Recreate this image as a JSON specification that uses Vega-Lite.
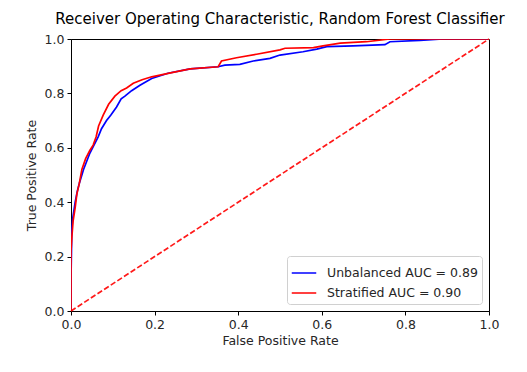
{
  "$schema": "https://vega.github.io/schema/vega-lite/v6.json",
  "width": 418,
  "height": 272,
  "autosize": {"type": "none"},
  "padding": {"left": 71, "top": 39, "right": 38, "bottom": 61},
  "background": "white",
  "title": {
    "text": "Receiver Operating Characteristic, Random Forest Classifier",
    "font": "DejaVu Sans",
    "fontSize": 15,
    "fontWeight": "normal",
    "color": "#000000",
    "offset": 6
  },
  "config": {
    "font": "DejaVu Sans",
    "view": {"stroke": "#000000", "strokeWidth": 1}
  },
  "layer": [
    {
      "data": {
        "values": [
          {"model": "Unbalanced AUC = 0.89", "i": 0, "fpr": 0, "tpr": 0},
          {"model": "Unbalanced AUC = 0.89", "i": 1, "fpr": 0, "tpr": 0.12},
          {"model": "Unbalanced AUC = 0.89", "i": 2, "fpr": 0.002, "tpr": 0.3},
          {"model": "Unbalanced AUC = 0.89", "i": 3, "fpr": 0.004, "tpr": 0.34},
          {"model": "Unbalanced AUC = 0.89", "i": 4, "fpr": 0.01, "tpr": 0.4},
          {"model": "Unbalanced AUC = 0.89", "i": 5, "fpr": 0.015, "tpr": 0.44},
          {"model": "Unbalanced AUC = 0.89", "i": 6, "fpr": 0.02, "tpr": 0.47},
          {"model": "Unbalanced AUC = 0.89", "i": 7, "fpr": 0.03, "tpr": 0.52},
          {"model": "Unbalanced AUC = 0.89", "i": 8, "fpr": 0.045, "tpr": 0.58},
          {"model": "Unbalanced AUC = 0.89", "i": 9, "fpr": 0.055, "tpr": 0.61},
          {"model": "Unbalanced AUC = 0.89", "i": 10, "fpr": 0.065, "tpr": 0.64},
          {"model": "Unbalanced AUC = 0.89", "i": 11, "fpr": 0.073, "tpr": 0.67},
          {"model": "Unbalanced AUC = 0.89", "i": 12, "fpr": 0.085, "tpr": 0.7},
          {"model": "Unbalanced AUC = 0.89", "i": 13, "fpr": 0.095, "tpr": 0.72},
          {"model": "Unbalanced AUC = 0.89", "i": 14, "fpr": 0.109, "tpr": 0.75},
          {"model": "Unbalanced AUC = 0.89", "i": 15, "fpr": 0.12, "tpr": 0.78},
          {"model": "Unbalanced AUC = 0.89", "i": 16, "fpr": 0.129, "tpr": 0.79},
          {"model": "Unbalanced AUC = 0.89", "i": 17, "fpr": 0.145, "tpr": 0.81},
          {"model": "Unbalanced AUC = 0.89", "i": 18, "fpr": 0.165, "tpr": 0.83},
          {"model": "Unbalanced AUC = 0.89", "i": 19, "fpr": 0.193, "tpr": 0.855},
          {"model": "Unbalanced AUC = 0.89", "i": 20, "fpr": 0.232, "tpr": 0.874},
          {"model": "Unbalanced AUC = 0.89", "i": 21, "fpr": 0.285, "tpr": 0.89},
          {"model": "Unbalanced AUC = 0.89", "i": 22, "fpr": 0.352, "tpr": 0.898},
          {"model": "Unbalanced AUC = 0.89", "i": 23, "fpr": 0.368, "tpr": 0.904},
          {"model": "Unbalanced AUC = 0.89", "i": 24, "fpr": 0.404, "tpr": 0.907},
          {"model": "Unbalanced AUC = 0.89", "i": 25, "fpr": 0.436, "tpr": 0.919},
          {"model": "Unbalanced AUC = 0.89", "i": 26, "fpr": 0.476, "tpr": 0.929},
          {"model": "Unbalanced AUC = 0.89", "i": 27, "fpr": 0.5, "tpr": 0.941},
          {"model": "Unbalanced AUC = 0.89", "i": 28, "fpr": 0.555, "tpr": 0.953},
          {"model": "Unbalanced AUC = 0.89", "i": 29, "fpr": 0.588, "tpr": 0.963},
          {"model": "Unbalanced AUC = 0.89", "i": 30, "fpr": 0.612, "tpr": 0.972},
          {"model": "Unbalanced AUC = 0.89", "i": 31, "fpr": 0.675, "tpr": 0.975},
          {"model": "Unbalanced AUC = 0.89", "i": 32, "fpr": 0.751, "tpr": 0.979},
          {"model": "Unbalanced AUC = 0.89", "i": 33, "fpr": 0.763, "tpr": 0.99},
          {"model": "Unbalanced AUC = 0.89", "i": 34, "fpr": 0.835, "tpr": 0.995},
          {"model": "Unbalanced AUC = 0.89", "i": 35, "fpr": 0.89, "tpr": 1.0},
          {"model": "Unbalanced AUC = 0.89", "i": 36, "fpr": 1.0, "tpr": 1.0},
          {"model": "Stratified AUC = 0.90", "i": 0, "fpr": 0, "tpr": 0},
          {"model": "Stratified AUC = 0.90", "i": 1, "fpr": 0, "tpr": 0.22},
          {"model": "Stratified AUC = 0.90", "i": 2, "fpr": 0.002, "tpr": 0.27},
          {"model": "Stratified AUC = 0.90", "i": 3, "fpr": 0.005, "tpr": 0.33},
          {"model": "Stratified AUC = 0.90", "i": 4, "fpr": 0.01, "tpr": 0.38},
          {"model": "Stratified AUC = 0.90", "i": 5, "fpr": 0.014, "tpr": 0.43},
          {"model": "Stratified AUC = 0.90", "i": 6, "fpr": 0.02, "tpr": 0.47},
          {"model": "Stratified AUC = 0.90", "i": 7, "fpr": 0.026, "tpr": 0.52},
          {"model": "Stratified AUC = 0.90", "i": 8, "fpr": 0.035, "tpr": 0.56},
          {"model": "Stratified AUC = 0.90", "i": 9, "fpr": 0.045, "tpr": 0.59},
          {"model": "Stratified AUC = 0.90", "i": 10, "fpr": 0.053, "tpr": 0.61},
          {"model": "Stratified AUC = 0.90", "i": 11, "fpr": 0.06, "tpr": 0.64},
          {"model": "Stratified AUC = 0.90", "i": 12, "fpr": 0.066, "tpr": 0.68},
          {"model": "Stratified AUC = 0.90", "i": 13, "fpr": 0.077, "tpr": 0.72},
          {"model": "Stratified AUC = 0.90", "i": 14, "fpr": 0.09, "tpr": 0.76},
          {"model": "Stratified AUC = 0.90", "i": 15, "fpr": 0.105, "tpr": 0.79},
          {"model": "Stratified AUC = 0.90", "i": 16, "fpr": 0.12, "tpr": 0.81},
          {"model": "Stratified AUC = 0.90", "i": 17, "fpr": 0.133, "tpr": 0.82},
          {"model": "Stratified AUC = 0.90", "i": 18, "fpr": 0.149, "tpr": 0.837},
          {"model": "Stratified AUC = 0.90", "i": 19, "fpr": 0.17, "tpr": 0.85},
          {"model": "Stratified AUC = 0.90", "i": 20, "fpr": 0.193, "tpr": 0.861},
          {"model": "Stratified AUC = 0.90", "i": 21, "fpr": 0.244, "tpr": 0.877},
          {"model": "Stratified AUC = 0.90", "i": 22, "fpr": 0.285, "tpr": 0.89},
          {"model": "Stratified AUC = 0.90", "i": 23, "fpr": 0.352, "tpr": 0.898},
          {"model": "Stratified AUC = 0.90", "i": 24, "fpr": 0.36, "tpr": 0.919},
          {"model": "Stratified AUC = 0.90", "i": 25, "fpr": 0.396, "tpr": 0.931},
          {"model": "Stratified AUC = 0.90", "i": 26, "fpr": 0.444, "tpr": 0.944},
          {"model": "Stratified AUC = 0.90", "i": 27, "fpr": 0.5, "tpr": 0.96},
          {"model": "Stratified AUC = 0.90", "i": 28, "fpr": 0.512, "tpr": 0.966},
          {"model": "Stratified AUC = 0.90", "i": 29, "fpr": 0.58, "tpr": 0.968},
          {"model": "Stratified AUC = 0.90", "i": 30, "fpr": 0.603, "tpr": 0.975},
          {"model": "Stratified AUC = 0.90", "i": 31, "fpr": 0.644, "tpr": 0.985},
          {"model": "Stratified AUC = 0.90", "i": 32, "fpr": 0.707, "tpr": 0.99},
          {"model": "Stratified AUC = 0.90", "i": 33, "fpr": 0.763, "tpr": 1.0},
          {"model": "Stratified AUC = 0.90", "i": 34, "fpr": 1.0, "tpr": 1.0}
        ]
      },
      "mark": {"type": "line", "strokeWidth": 1.7, "clip": true},
      "encoding": {
        "x": {
          "field": "fpr",
          "type": "quantitative",
          "scale": {"domain": [0, 1], "nice": false, "zero": false},
          "axis": {
            "title": "False Positive Rate",
            "values": [0, 0.2, 0.4, 0.6, 0.8, 1.0],
            "format": ".1f",
            "grid": false,
            "labelFlush": false,
            "domainColor": "#000000",
            "tickColor": "#000000",
            "tickSize": 4,
            "labelFontSize": 12.5,
            "labelColor": "#262626",
            "labelPadding": 3,
            "titleFontSize": 12.5,
            "titleFontWeight": "normal",
            "titleColor": "#262626",
            "titlePadding": 4
          }
        },
        "y": {
          "field": "tpr",
          "type": "quantitative",
          "scale": {"domain": [0, 1], "nice": false, "zero": false},
          "axis": {
            "title": "True Positive Rate",
            "values": [0, 0.2, 0.4, 0.6, 0.8, 1.0],
            "format": ".1f",
            "grid": false,
            "labelFlush": false,
            "domainColor": "#000000",
            "tickColor": "#000000",
            "tickSize": 4,
            "labelFontSize": 12.5,
            "labelColor": "#262626",
            "labelPadding": 3,
            "titleFontSize": 12.5,
            "titleFontWeight": "normal",
            "titleColor": "#262626",
            "titlePadding": 6
          }
        },
        "color": {
          "field": "model",
          "type": "nominal",
          "scale": {
            "domain": ["Unbalanced AUC = 0.89", "Stratified AUC = 0.90"],
            "range": ["#0000ff", "#ff0000"]
          },
          "legend": {
            "title": null,
            "orient": "bottom-right",
            "offset": 7,
            "symbolType": "stroke",
            "symbolSize": 600,
            "symbolStrokeWidth": 1.5,
            "labelFontSize": 12.5,
            "labelColor": "#262626",
            "labelOffset": 10,
            "fillColor": "white",
            "strokeColor": "#d0d0d0",
            "cornerRadius": 3,
            "padding": 4,
            "rowPadding": 0
          }
        },
        "order": {"field": "i", "type": "quantitative"}
      }
    },
    {
      "data": {"values": [{"fpr": 0, "tpr": 0}, {"fpr": 1, "tpr": 1}]},
      "mark": {"type": "line", "color": "#ff0000", "strokeWidth": 1.7, "strokeDash": [5.5, 2.4], "opacity": 0.9},
      "encoding": {
        "x": {"field": "fpr", "type": "quantitative"},
        "y": {"field": "tpr", "type": "quantitative"}
      }
    }
  ]
}
